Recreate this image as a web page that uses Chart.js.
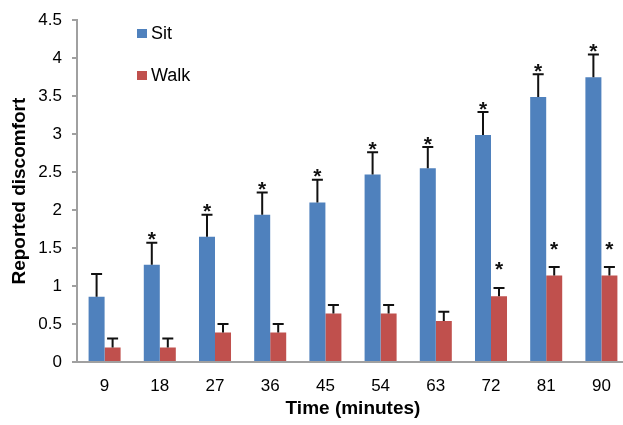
<!DOCTYPE html>
<html lang="en">
<head>
    <meta charset="UTF-8">
    <title>Reported discomfort</title>
    <script src="https://cdn.jsdelivr.net/npm/chart.js"></script>
    <style>
        body { margin: 0; overflow: hidden; background: #fff; }
    </style>
</head>
<body>
    <div style="width: 630px; height: 425px;">
        <canvas id="Chart"></canvas>
    </div>

    <script>
        // values
        const times = ['9', '18', '27', '36', '45', '54', '63', '72', '81', '90'];
        const sitData = [0.86, 1.28, 1.65, 1.94, 2.10, 2.47, 2.55, 2.99, 3.49, 3.75];
        const sitErr  = [0.30, 0.29, 0.29, 0.29, 0.30, 0.29, 0.28, 0.30, 0.30, 0.30];
        const sitSig  = [false, true, true, true, true, true, true, true, true, true];
        const walkData = [0.19, 0.19, 0.39, 0.39, 0.64, 0.64, 0.54, 0.865, 1.14, 1.14];
        const walkErr  = [0.12, 0.12, 0.11, 0.11, 0.11, 0.11, 0.12, 0.11, 0.11, 0.11];
        const walkSig  = [false, false, false, false, false, false, false, true, true, true];

        const errors = [sitErr, walkErr];
        const stars = [sitSig, walkSig];
        const starGap = [5, 20]; // px above the cap

        const axisGrey = '#a0a0a0';
        const font = 'Arial, "Liberation Sans", sans-serif';

        // error bars (upper only) and asterisks
        const errorBars = {
            id: 'errorBars',
            afterDatasetsDraw(chart) {
                const ctx = chart.ctx;
                const y = chart.scales.y;
                ctx.save();
                chart.data.datasets.forEach((ds, i) => {
                    const meta = chart.getDatasetMeta(i);
                    meta.data.forEach((bar, j) => {
                        const top = y.getPixelForValue(ds.data[j] + errors[i][j]);
                        ctx.strokeStyle = '#111';
                        ctx.lineWidth = 2;
                        ctx.beginPath();
                        ctx.moveTo(bar.x, bar.y);
                        ctx.lineTo(bar.x, top);
                        ctx.moveTo(bar.x - 5.5, top);
                        ctx.lineTo(bar.x + 5.5, top);
                        ctx.stroke();
                        if (stars[i][j]) {
                            ctx.fillStyle = '#111';
                            ctx.font = 'bold 21px ' + font;
                            ctx.textAlign = 'center';
                            ctx.textBaseline = 'alphabetic';
                            ctx.fillText('*', bar.x, top - starGap[i] + 8.5);
                        }
                    });
                });
                ctx.restore();
            }
        };

        // legend drawn inside the plot, top left
        const innerLegend = {
            id: 'innerLegend',
            afterDraw(chart) {
                const ctx = chart.ctx;
                ctx.save();
                chart.data.datasets.forEach((ds, i) => {
                    const yy = 29 + i * 42;
                    ctx.fillStyle = ds.backgroundColor;
                    ctx.fillRect(137, yy, 10, 9);
                    ctx.fillStyle = '#000';
                    ctx.font = '18px ' + font;
                    ctx.textAlign = 'left';
                    ctx.textBaseline = 'middle';
                    ctx.fillText(ds.label, 151, yy + 5);
                });
                ctx.restore();
            }
        };

        const ctx = document.getElementById('Chart').getContext('2d');
        const chart = new Chart(ctx, {
            type: 'bar',
            data: {
                labels: times,
                datasets: [
                    {
                        label: 'Sit',
                        data: sitData,
                        backgroundColor: '#4f81bd'
                    },
                    {
                        label: 'Walk',
                        data: walkData,
                        backgroundColor: '#c0504d'
                    }
                ]
            },
            options: {
                responsive: true,
                maintainAspectRatio: false,
                animation: false,
                layout: {
                    padding: { top: 13, right: 1, left: 0, bottom: 0 }
                },
                datasets: {
                    bar: { categoryPercentage: 0.58, barPercentage: 1.0 }
                },
                scales: {
                    x: {
                        grid: { display: false },
                        border: { color: axisGrey, width: 2 },
                        ticks: {
                            color: '#000',
                            padding: 6,
                            font: { family: font, size: 17 }
                        },
                        title: {
                            display: true,
                            text: 'Time (minutes)',
                            color: '#000',
                            padding: { top: 0, bottom: 5 },
                            font: { family: font, size: 19, weight: 'bold' }
                        },
                        afterFit: scale => { scale.height = 63; }
                    },
                    y: {
                        min: 0,
                        max: 4.5,
                        ticks: {
                            stepSize: 0.5,
                            color: '#000',
                            padding: 10,
                            font: { family: font, size: 17 },
                            callback: v => String(Number(v))
                        },
                        grid: {
                            drawOnChartArea: false,
                            drawTicks: true,
                            tickLength: 5,
                            color: axisGrey,
                            lineWidth: 2
                        },
                        border: { color: axisGrey, width: 2 },
                        title: {
                            display: true,
                            text: 'Reported discomfort',
                            color: '#000',
                            padding: { top: 8, bottom: 0 },
                            font: { family: font, size: 19, weight: 'bold' }
                        },
                        afterFit: scale => { scale.width = 77; }
                    }
                },
                plugins: {
                    legend: { display: false },
                    tooltip: { enabled: false }
                }
            },
            plugins: [errorBars, innerLegend]
        });
    </script>
</body>
</html>
